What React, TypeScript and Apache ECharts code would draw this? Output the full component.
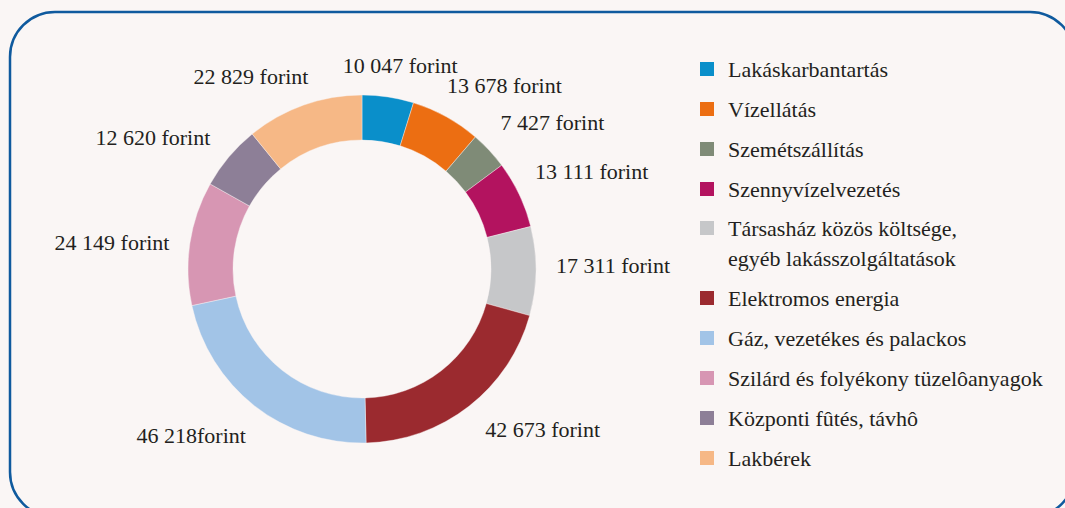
import React, { useEffect, useRef } from 'react';
import * as echarts from 'echarts';

const categories = [
  'Lakáskarbantartás',
  'Vízellátás',
  'Szemétszállítás',
  'Szennyvízelvezetés',
  'Társasház közös költsége,\negyéb lakásszolgáltatások',
  'Elektromos energia',
  'Gáz, vezetékes és palackos',
  'Szilárd és folyékony tüzelôanyagok',
  'Központi fûtés, távhô',
  'Lakbérek',
];
const values = [10047, 13678, 7427, 13111, 17311, 42673, 46218, 24149, 12620, 22829];
const unitTexts = [' forint', ' forint', ' forint', ' forint', ' forint', ' forint', 'forint', ' forint', ' forint', ' forint'];
const colors = ['#0a8fca', '#ec6e12', '#7f8b77', '#b3135f', '#c6c7c9', '#9b2a2f', '#a2c4e7', '#d796b3', '#8d7f97', '#f6b886'];

const FONT = '"Liberation Serif", "Times New Roman", serif';
const TEXT_COLOR = '#231f20';
const FONT_SIZE = 22;
const PIE_CENTER = [362, 269];

function groupDigits(v: number): string {
  return String(v).replace(/\B(?=(\d{3})+(?!\d))/g, ' ');
}

export default function App() {
  const ref = useRef<HTMLDivElement>(null);
  useEffect(() => {
    document.body.style.margin = '0';
    if (!ref.current) return;
    const chart = echarts.init(ref.current, undefined, { renderer: 'svg' });
    const clamp = (v: number) => Math.max(-1, Math.min(1, 2 * v));
    const rot = (-1.5 * Math.PI) / 180;
    const legendText = {
      fontFamily: FONT,
      fontSize: FONT_SIZE,
      color: TEXT_COLOR,
      lineHeight: 30,
      padding: [0, 0, 0, 8],
      rich: { h: { fontFamily: FONT, fontSize: FONT_SIZE, lineHeight: 30, color: 'transparent' } },
    };
    const legendBase = {
      orient: 'vertical',
      left: 698,
      padding: 0,
      itemGap: 10,
      itemWidth: 16,
      itemHeight: 16,
      icon: 'rect',
      selectedMode: false,
      textStyle: legendText,
      formatter: (name: string) => (name.indexOf('\n') >= 0 ? '{h| }\n' + name : name),
    };
    chart.setOption({
      animation: false,
      backgroundColor: '#faf6f5',
      graphic: [
        {
          type: 'rect',
          shape: { x: 10, y: 12, width: 1065, height: 505, r: 45 },
          style: { fill: 'none', stroke: '#0f5a9e', lineWidth: 2.5 },
          silent: true,
        },
      ],
      legend: [
        { ...legendBase, top: 54, data: categories.slice(0, 4) },
        { ...legendBase, top: 183, data: categories.slice(4) },
      ],
      series: [
        {
          type: 'pie',
          center: PIE_CENTER,
          radius: [129, 174],
          startAngle: 90,
          clockwise: true,
          avoidLabelOverlap: false,
          emphasis: { disabled: true },
          itemStyle: { borderColor: '#faf6f5', borderWidth: 0.4 },
          label: {
            show: true,
            position: 'outside',
            fontFamily: FONT,
            fontSize: FONT_SIZE,
            color: TEXT_COLOR,
            formatter: (p: any) => groupDigits(p.value) + unitTexts[p.dataIndex],
          },
          labelLine: { show: true, length: 20, length2: 0, lineStyle: { opacity: 0, width: 0 } },
          labelLayout: (params: any) => {
            const pts = params.labelLinePoints;
            if (!pts || pts.length < 2) return {};
            const p1 = pts[1];
            const rx = p1[0] - PIE_CENTER[0];
            const ry = p1[1] - PIE_CENTER[1];
            const ax = rx * Math.cos(rot) - ry * Math.sin(rot);
            const ay = rx * Math.sin(rot) + ry * Math.cos(rot);
            const len = Math.hypot(ax, ay) || 1;
            const dx = ax / len;
            const dy = ay / len;
            const w = params.labelRect.width;
            const h = params.labelRect.height;
            return {
              x: PIE_CENTER[0] + ax + (clamp(dx) * w) / 2,
              y: PIE_CENTER[1] + ay + (clamp(dy) * h) / 2,
              align: 'center',
              verticalAlign: 'middle',
            };
          },
          data: categories.map((n, i) => ({ name: n, value: values[i], itemStyle: { color: colors[i] } })),
        },
      ],
    });
    return () => chart.dispose();
  }, []);
  return <div ref={ref} style={{ position: 'fixed', left: 0, top: 0, width: 1065, height: 508 }} />;
}
